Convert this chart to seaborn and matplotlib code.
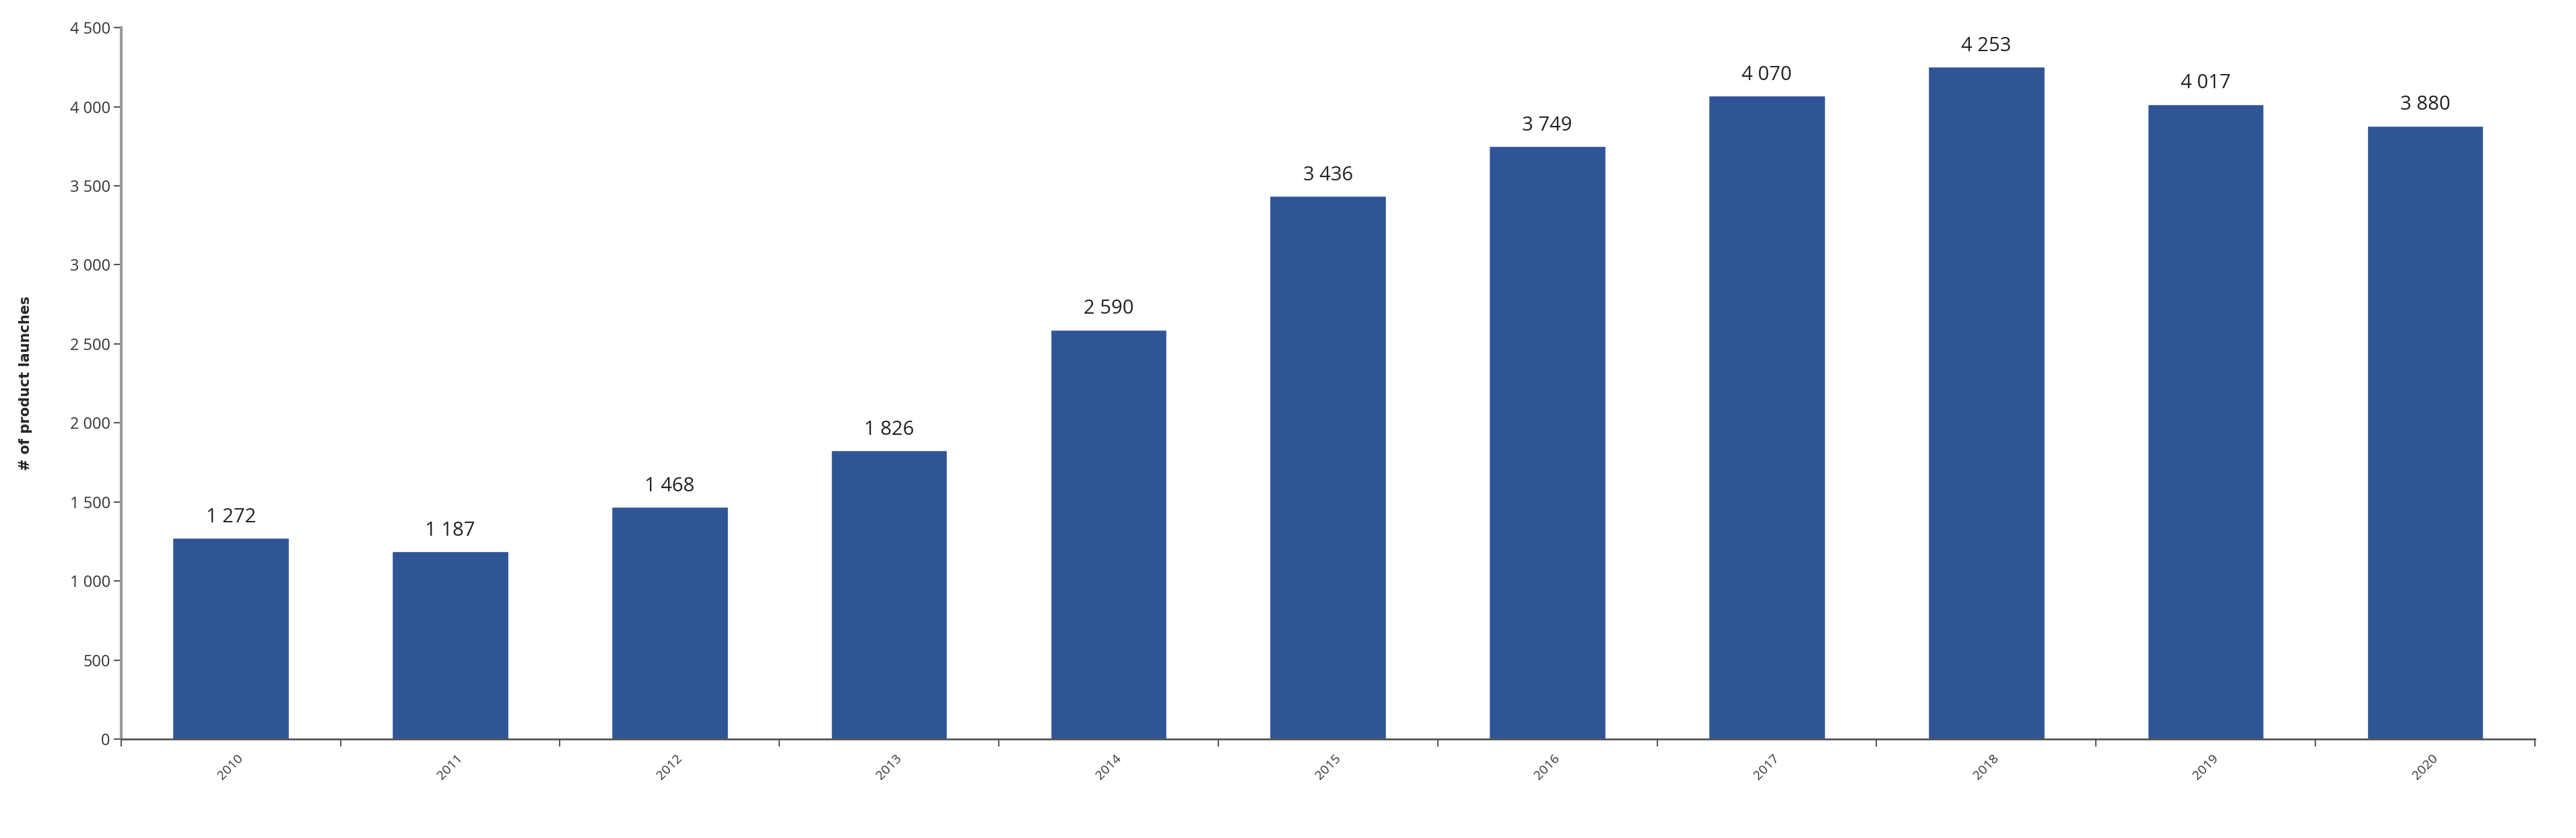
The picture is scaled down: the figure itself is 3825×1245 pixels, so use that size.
import matplotlib
matplotlib.use("Agg")
import matplotlib.pyplot as plt
import seaborn as sns
import pandas as pd
from matplotlib.ticker import FuncFormatter, FixedLocator

years = ["2010", "2011", "2012", "2013", "2014", "2015", "2016", "2017", "2018", "2019", "2020"]
launches = [1272, 1187, 1468, 1826, 2590, 3436, 3749, 4070, 4253, 4017, 3880]

df = pd.DataFrame({"year": years, "launches": launches})

sns.set_style("white")
plt.rcParams['font.family'] = ['Open Sans', 'DejaVu Sans']

fig = plt.figure(figsize=(38.25, 12.45), dpi=100)
ax = fig.add_axes([0.047, 0.118, 0.937, 0.849])

sns.barplot(data=df, x="year", y="launches", color="#2F5597", saturation=1,
            width=0.53, ax=ax)

fmt = lambda v: f"{int(v):,}".replace(",", " ")
for i, v in enumerate(launches):
    ax.text(i, v + 70, fmt(v), ha="center", va="bottom", fontsize=21, color="#222222")

ax.set_ylim(0, 4500)
ax.set_xlim(-0.5, len(years) - 0.5)
ax.set_yticks(range(0, 4501, 500))
ax.yaxis.set_major_formatter(FuncFormatter(lambda v, p: fmt(v)))
ax.tick_params(axis="y", labelsize=17, length=8, width=1.5, color="#555555", labelcolor="#333333", left=True)

# category labels centred, ticks at boundaries
ax.set_xticks(range(len(years)))
ax.set_xticklabels(years, rotation=45, ha="center", fontsize=14, color="#333333")
ax.tick_params(axis="x", length=0, pad=14)
ax.xaxis.set_minor_locator(FixedLocator([i + 0.5 for i in range(-1, len(years))]))
ax.tick_params(axis="x", which="minor", length=8, width=1.5, color="#555555", bottom=True)

ax.set_xlabel("")
ax.set_ylabel("# of product launches", fontsize=15, fontweight="bold", labelpad=40,
              family=["Liberation Sans Narrow", "DejaVu Sans"])
for s in ["top", "right"]:
    ax.spines[s].set_visible(False)
ax.spines["left"].set_color("#999999")
ax.spines["left"].set_linewidth(3)
ax.spines["bottom"].set_color("#555555")
ax.spines["bottom"].set_linewidth(2)

fig.savefig("out.png", dpi=100)
